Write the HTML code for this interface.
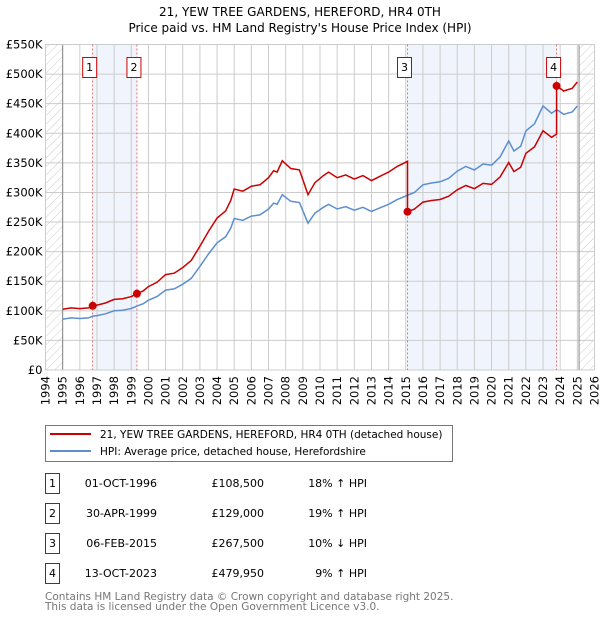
<!DOCTYPE html>
<html><head><meta charset="utf-8"><style>
body{margin:0;background:#fff;}
svg{display:block;font-family:"DejaVu Sans","Liberation Sans",sans-serif;}
</style></head><body>
<svg id="chart" width="600" height="620" viewBox="0 0 600 620">
<defs>
<pattern id="hatch" patternUnits="userSpaceOnUse" width="6" height="6" patternTransform="rotate(45)">
<line x1="0" y1="0" x2="0" y2="6" stroke="#ccc" stroke-width="1"/>
</pattern>
</defs>
<text x="300" y="16" text-anchor="middle" font-size="12">21, YEW TREE GARDENS, HEREFORD, HR4 0TH</text>
<text x="300" y="32" text-anchor="middle" font-size="12">Price paid vs. HM Land Registry's House Price Index (HPI)</text>
<g id="plot"></g>
<g>
<rect x="45.5" y="425.5" width="407" height="36" fill="#fff" stroke="#777"/>
<line x1="50" y1="434" x2="91" y2="434" stroke="#cc0000" stroke-width="2"/>
<text x="100" y="438" font-size="10.5">21, YEW TREE GARDENS, HEREFORD, HR4 0TH (detached house)</text>
<line x1="50" y1="451" x2="91" y2="451" stroke="#5b8fd0" stroke-width="2"/>
<text x="100" y="455" font-size="10.5">HPI: Average price, detached house, Herefordshire</text>
</g>
<g id="table"></g>
<text x="45" y="600" font-size="10.5" fill="#777">Contains HM Land Registry data © Crown copyright and database right 2025.</text>
<text x="45" y="610" font-size="10.5" fill="#777">This data is licensed under the Open Government Licence v3.0.</text>
</svg>
<script>
const hpiYears=[1995,1995.5,1996,1996.5,1996.75,1997,1997.5,1998,1998.5,1999,1999.33,1999.7,2000,2000.5,2001,2001.5,2002,2002.5,2003,2003.5,2004,2004.5,2004.8,2005,2005.5,2006,2006.5,2007,2007.3,2007.5,2007.8,2008.3,2008.8,2009.1,2009.3,2009.7,2010.2,2010.5,2011,2011.5,2012,2012.5,2013,2013.5,2014,2014.5,2015,2015.5,2016,2016.5,2017,2017.5,2018,2018.5,2019,2019.5,2020,2020.5,2021,2021.3,2021.7,2022,2022.5,2023,2023.5,2023.8,2024.2,2024.7,2025];
const hpiValues=[86,88,87,88,91,92,95,100,101,104,108,112,118,124,135,137,145,155,175,196,215,225,240,256,253,260,262,272,282,280,296,285,283,262,248,265,275,280,272,276,270,275,268,274,280,288,294,300,313,316,318,324,336,344,338,348,346,360,387,370,378,404,416,446,434,440,432,436,446];
const saleYears=[1996.75,1999.33,2015.1,2023.79];
const salePrices=[108500,129000,267500,479950];
const saleLabels=["1","2","3","4"];
const saleDates=["01-OCT-1996","30-APR-1999","06-FEB-2015","13-OCT-2023"];
const salePriceText=["£108,500","£129,000","£267,500","£479,950"];
const saleHpiText=["18% ↑ HPI","19% ↑ HPI","10% ↓ HPI","9% ↑ HPI"];
const yTicks=[0,50,100,150,200,250,300,350,400,450,500,550];
const yTickLabels=["£0","£50K","£100K","£150K","£200K","£250K","£300K","£350K","£400K","£450K","£500K","£550K"];
const xTicks=[1994,1995,1996,1997,1998,1999,2000,2001,2002,2003,2004,2005,2006,2007,2008,2009,2010,2011,2012,2013,2014,2015,2016,2017,2018,2019,2020,2021,2022,2023,2024,2025,2026];

const NS="http://www.w3.org/2000/svg";
const L=45.5,R=594.5,T=44.5,B=370;
const X=y=>L+(y-1994)/(2026-1994)*(R-L);
const Y=v=>B-v/550*(B-T);
function mk(tag,attrs,parent){const e=document.createElementNS(NS,tag);for(const k in attrs)e.setAttribute(k,attrs[k]);parent.appendChild(e);return e;}
function hpiAt(t){for(let i=1;i<hpiYears.length;i++){if(t<=hpiYears[i]){const a=hpiYears[i-1],b=hpiYears[i];return hpiValues[i-1]+(hpiValues[i]-hpiValues[i-1])*(t-a)/(b-a);}}return hpiValues[hpiValues.length-1];}
const plot=document.getElementById('plot');
for(const [a,b] of [[0,1],[2,3]]){
 const r=mk('rect',{x:X(saleYears[a]),y:T,width:X(saleYears[b])-X(saleYears[a]),height:B-T,fill:'#f0f4fc'},plot);
 
 
}
const h1=mk('rect',{x:L,y:T,width:X(1995)-L,height:B-T,fill:'url(#hatch)'},plot);


const h2=mk('rect',{x:X(2025.1),y:T,width:R-X(2025.1),height:B-T,fill:'url(#hatch)'},plot);


yTicks.forEach((v,i)=>{
 mk('line',{x1:L,x2:R,y1:Y(v),y2:Y(v),stroke:'#ccc'},plot);
 const t=mk('text',{x:L-3,y:Y(v)+4,'text-anchor':'end','font-size':'11.5'},plot);t.textContent=yTickLabels[i];
 
 
});
xTicks.forEach(yr=>{
 mk('line',{x1:X(yr),x2:X(yr),y1:T,y2:B,stroke:'#ccc'},plot);
 const t=mk('text',{x:0,y:0,'text-anchor':'end','font-size':'11.5',transform:`translate(${X(yr)+4},${B+6}) rotate(-90)`},plot);t.textContent=yr;
 
 
});
mk('line',{x1:X(1995),x2:X(1995),y1:T,y2:B,stroke:'#888'},plot);
mk('line',{x1:X(2025.1),x2:X(2025.1),y1:T,y2:B,stroke:'#888'},plot);
mk('rect',{x:L,y:T,width:R-L,height:B-T,fill:'none',stroke:'#ccc'},plot);
saleYears.forEach(s=>{mk('line',{x1:X(s),x2:X(s),y1:T,y2:B,stroke:'#e05555','stroke-dasharray':'2,2','stroke-width':0.8},plot);});
const hp=mk('path',{d:hpiYears.map((t,i)=>(i?'L':'M')+X(t).toFixed(1)+','+Y(hpiValues[i]).toFixed(1)).join(''),fill:'none',stroke:'#5b8fd0','stroke-width':1.5},plot);


let d='';
const ratio=i=>salePrices[i]/1000/hpiAt(saleYears[i]);
let first=true;
hpiYears.forEach((t,i)=>{
 let seg=0;for(let k=0;k<saleYears.length;k++)if(t>=saleYears[k])seg=k;
 for(let k=1;k<saleYears.length;k++){
  const prevT=i?hpiYears[i-1]:-1;
  if(prevT<saleYears[k]&&t>=saleYears[k]){
   const hv=hpiAt(saleYears[k]);
   d+='L'+X(saleYears[k]).toFixed(1)+','+Y(hv*ratio(k-1)).toFixed(1);
   d+='L'+X(saleYears[k]).toFixed(1)+','+Y(hv*ratio(k)).toFixed(1);
  }
 }
 d+=(first?'M':'L')+X(t).toFixed(1)+','+Y(hpiValues[i]*ratio(seg)).toFixed(1);first=false;
});
const pp=mk('path',{d:d,fill:'none',stroke:'#cc0000','stroke-width':1.5},plot);


saleYears.forEach((s,i)=>{
 const c=mk('circle',{cx:X(s),cy:Y(salePrices[i]/1000),r:4,fill:'#cc0000'},plot);
 
 
 const bx=X(s)-3;
 const g=mk('g',{},plot);
 
 
 mk('rect',{x:bx-7,y:57.5,width:14,height:20,fill:'#fff',stroke:'#cc0000'},g);
 const t=mk('text',{x:bx,y:71,'text-anchor':'middle','font-size':'11'},g);t.textContent=saleLabels[i];
});
const tb=document.getElementById('table');
saleLabels.forEach((lab,i)=>{
 const cy=483+i*30;
 const g=mk('g',{},tb);
 
 
 mk('rect',{x:45.5,y:cy-9.5,width:14,height:20,fill:'#fff',stroke:'#cc0000'},g);
 let t=mk('text',{x:52.5,y:cy+4,'text-anchor':'middle','font-size':'11'},g);t.textContent=lab;
 t=mk('text',{x:157,y:cy+4,'text-anchor':'end','font-size':'11'},g);t.textContent=saleDates[i];
 t=mk('text',{x:264,y:cy+4,'text-anchor':'end','font-size':'11'},g);t.textContent=salePriceText[i];
 t=mk('text',{x:367,y:cy+4,'text-anchor':'end','font-size':'11'},g);t.textContent=saleHpiText[i];
});
</script>
</body></html>
